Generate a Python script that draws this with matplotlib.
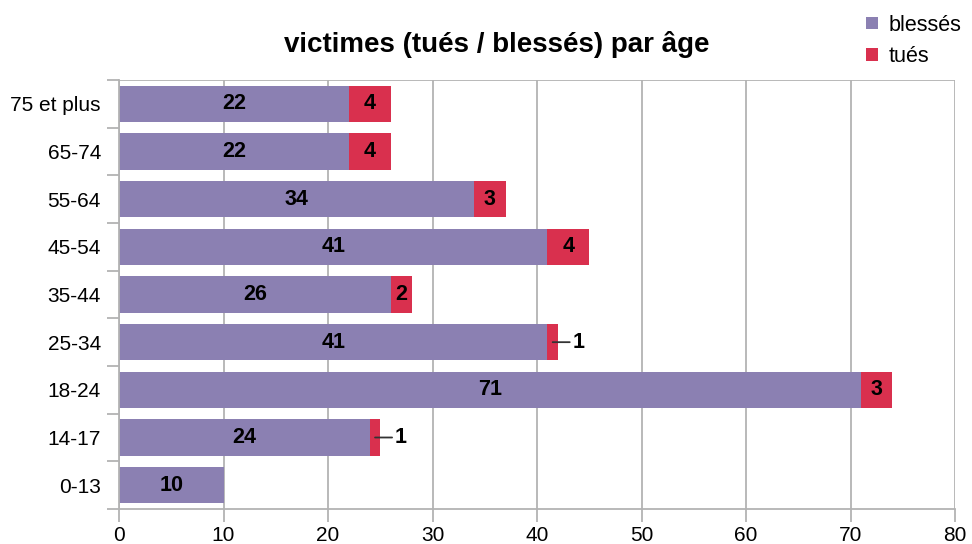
import matplotlib.pyplot as plt
import numpy as np

plt.rcParams['font.family'] = ['Liberation Sans', 'DejaVu Sans']

categories = ['0-13', '14-17', '18-24', '25-34', '35-44', '45-54', '55-64', '65-74', '75 et plus']
blesses = [10, 24, 71, 41, 26, 41, 34, 22, 22]
tues = [0, 1, 3, 1, 2, 4, 3, 4, 4]

c_blesses = '#8b80b2'
c_tues = '#d9304e'
c_grid = '#b3b3b3'

fig = plt.figure(figsize=(9.72, 5.44), dpi=100)
ax = fig.add_axes([119 / 972, 1 - 509 / 544, 836 / 972, 429 / 544])

y = np.arange(len(categories))
h = 0.76
ax.barh(y, blesses, height=h, color=c_blesses, label='blessés', zorder=2)
ax.barh(y, tues, left=blesses, height=h, color=c_tues, label='tués', zorder=2)

for i in range(len(categories)):
    ax.text(blesses[i] / 2, y[i], str(blesses[i]), ha='center', va='center',
            fontsize=15.5, fontweight='bold', color='black', zorder=3)
    if tues[i] == 0:
        continue
    end = blesses[i] + tues[i]
    if tues[i] >= 2:
        ax.text(blesses[i] + tues[i] / 2, y[i], str(tues[i]), ha='center', va='center',
                fontsize=15.5, fontweight='bold', color='black', zorder=3)
    else:
        # petite valeur : étiquette à l'extérieur avec un trait
        ax.annotate(str(tues[i]), xy=(end - 0.5, y[i]), xytext=(end + 1.4, y[i]),
                    ha='left', va='center', fontsize=15.5, fontweight='bold',
                    arrowprops=dict(arrowstyle='-', color='#333333', lw=1.3,
                                    shrinkA=0, shrinkB=0), zorder=3)

ax.set_xlim(0, 80)
ax.set_ylim(-0.5, len(categories) - 0.5)
ax.set_xticks(np.arange(0, 81, 10))
ax.set_yticks(y)
ax.set_yticklabels(categories)
ax.set_yticks(np.arange(-0.5, len(categories), 1), minor=True)
ax.tick_params(axis='y', which='major', length=0, pad=13, labelsize=15)
ax.tick_params(axis='y', which='minor', length=9, color=c_grid, width=1.3)
ax.tick_params(axis='x', length=9, color=c_grid, width=1.3, labelsize=15, pad=3)
ax.grid(axis='x', color=c_grid, lw=1.3, zorder=1)
for s in ax.spines.values():
    s.set_color(c_grid)
    s.set_linewidth(1.3)
ax.spines['top'].set_visible(False)
ax.spines['right'].set_visible(False)
ax.axhline(len(categories) - 0.5, color=c_grid, lw=1.3, zorder=1)

fig.text(497 / 972, 1 - 45 / 544, 'victimes (tués / blessés) par âge', ha='center', va='center',
         fontsize=20, fontweight='bold')

fig.legend(loc='upper right', bbox_to_anchor=(970 / 972, 1 - 6 / 544), frameon=False,
           fontsize=15.5, handlelength=0.55, handleheight=0.55, handletextpad=0.5,
           labelspacing=0.5, borderaxespad=0)

fig.savefig('out.png', dpi=100)
